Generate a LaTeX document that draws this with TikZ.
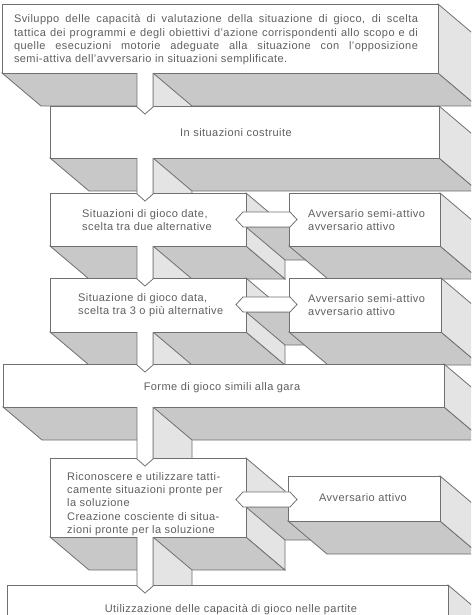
\documentclass[tikz,border=0pt]{standalone}
\usepackage{fontspec}
\setmainfont[LetterSpace=4]{Liberation Sans}
\definecolor{linegray}{RGB}{112,112,112}
\definecolor{botgray}{RGB}{200,200,200}
\definecolor{sidegray}{RGB}{228,228,228}
\definecolor{txtgray}{RGB}{95,95,95}
% depth offset of every slab (down and to the right)
\def\dX{39}
\def\dY{33}
% visible bottom and right faces of a slab with front x1,y1,x2,y2
\newcommand\slabsides[4]{%
  \path[botface] (#1,#4) -- (#3,#4) -- (#3+\dX,#4+\dY) -- (#1+\dX,#4+\dY) -- cycle;
  \path[rgtface] (#3,#2) -- (#3,#4) -- (#3+\dX,#4+\dY) -- (#3+\dX,#2+\dY) -- cycle;}
\newcommand\slabfront[4]{\path[frontface] (#1,#2) rectangle (#3,#4);}
% right face of a vertical stem between two slabs
\newcommand\stemside[2]{%
  \path[rgtface] (153,#1) -- (153,#2) -- (153+\dX,#2+\dY) -- (153+\dX,#1+\dY) -- cycle;}
% front of a vertical stem with its arrow tip
\newcommand\stemfront[2]{%
  \fill[white] (137,#1-1.5) -- (137,#2+1) -- (145,#2+8) -- (153,#2+1) -- (153,#1-1.5) -- cycle;
  \draw[edge] (137,#1) -- (137,#2+1) -- (145,#2+8) -- (153,#2+1) -- (153,#1);}
% bottom face of a horizontal double arrow (y of its lower edge)
\newcommand\barside[1]{%
  \path[botface] (246,#1) -- (289,#1) -- (289+\dX,#1+\dY) -- (246+\dX,#1+\dY) -- cycle;}
% front of a horizontal double arrow (y of its upper edge)
\newcommand\barfront[1]{%
  \path[frontface] (236,#1+7.5) -- (243,#1) -- (290,#1) -- (297,#1+7.5) -- (290,#1+15) -- (243,#1+15) -- cycle;}
\begin{document}
\begin{tikzpicture}[x=1pt,y=-1pt,
  edge/.style={draw=linegray,line width=0.8pt,line join=miter},
  botface/.style={edge,fill=botgray},
  rgtface/.style={edge,fill=sidegray},
  frontface/.style={edge,fill=white},
  lbl/.style={text=txtgray,font=\fontsize{11}{13.3}\selectfont,inner sep=0pt}]
\useasboundingbox (0,0) rectangle (471,615);
\clip (0,0) rectangle (471,615);
\fill[white] (0,0) rectangle (471,615);

% side faces, from the back to the front
\slabsides{2}{4}{438}{73}
\stemside{73}{106}
\slabsides{50}{106}{439}{158}
\stemside{158}{193}
\slabsides{50}{193}{246}{246}
\barside{227}
\slabsides{289}{193}{440}{246}
\stemside{246}{278}
\slabsides{50}{278}{246}{332}
\barside{312}
\slabsides{289}{278}{441}{332}
\stemside{332}{364}
\slabsides{3}{364}{444}{407}
\stemside{407}{458}
\slabsides{50}{458}{246}{537}
\barside{507}
\slabsides{288}{476}{440}{521}
\stemside{537}{585}
\slabsides{7}{585}{448}{660}

% front faces
\slabfront{2}{4}{438}{73}
\slabfront{50}{106}{439}{158}
\slabfront{50}{193}{246}{246}
\slabfront{289}{193}{440}{246}
\slabfront{50}{278}{246}{332}
\slabfront{289}{278}{441}{332}
\slabfront{3}{364}{444}{407}
\slabfront{50}{458}{246}{537}
\slabfront{288}{476}{440}{521}
\slabfront{7}{585}{448}{660}

% connectors
\stemfront{73}{106}
\stemfront{158}{193}
\stemfront{246}{278}
\stemfront{332}{364}
\stemfront{407}{458}
\stemfront{537}{585}
\barfront{212}
\barfront{297}
\barfront{492}

% labels
\node[lbl,align=left] (goal) at (216,40) {%
  \makebox[404pt][s]{Sviluppo delle capacità di valutazione della situazione di gioco, di scelta}\\
  \makebox[404pt][s]{tattica dei programmi e degli obiettivi d'azione corrispondenti allo scopo e di}\\
  \makebox[404pt][s]{quelle esecuzioni motorie adeguate alla situazione con l'opposizione}\\
  \makebox[404pt][l]{semi-attiva dell'avversario in situazioni semplificate.}};
\node[lbl] (built) at (236,133) {In situazioni costruite};
\node[lbl,align=left,anchor=west] (two) at (82,220) {Situazioni di gioco date,\\scelta tra due alternative};
\node[lbl,align=left,anchor=west] (oppA) at (308,220) {Avversario semi-attivo\\avversario attivo};
\node[lbl,align=left,anchor=west] (three) at (78,305) {Situazione di gioco data,\\scelta tra 3 o più alternative};
\node[lbl,align=left,anchor=west] (oppB) at (308,305) {Avversario semi-attivo\\avversario attivo};
\node[lbl] (forms) at (222,388) {Forme di gioco simili alla gara};
\node[lbl,align=left,anchor=west] (recog) at (67,504) {Riconoscere e utilizzare tatti-\\camente situazioni pronte per\\la soluzione\\Creazione cosciente di situa-\\zioni pronte per la soluzione};
\node[lbl] (oppC) at (363,498) {Avversario attivo};
\node[lbl] (match) at (231,610) {Utilizzazione delle capacità di gioco nelle partite};
\end{tikzpicture}
\end{document}
